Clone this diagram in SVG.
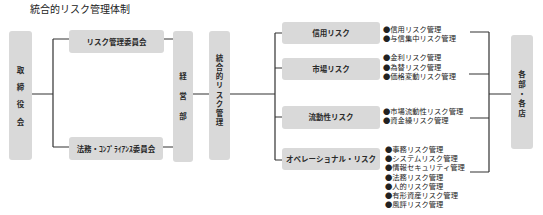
<svg xmlns="http://www.w3.org/2000/svg" width="543" height="215" viewBox="0 0 543 215">
<style>
.bx{fill:#d9d9d9;}
.lb{font-family:"Noto Sans CJK JP","Liberation Sans",sans-serif;font-size:7.5px;font-weight:bold;fill:#2a2a2a;text-anchor:middle;}
.bl{font-family:"Noto Sans CJK JP","Liberation Sans",sans-serif;font-size:7.3px;fill:#222;}
.ti{font-family:"Noto Sans CJK JP","Liberation Sans",sans-serif;font-size:10px;fill:#222;}
.cn{stroke:#333;stroke-width:1.2;fill:none;}
.vt{writing-mode:vertical-rl;letter-spacing:1.6px;}
</style>
<rect width="543" height="215" fill="#fff"/>
<text class="ti" x="30" y="13">統合的リスク管理体制</text>
<g id="connectors">
<path class="cn" d="M32 94H53M53 39V147M53 39H69M53 147H69M164 39H173M163 147H173"/>
<path class="cn" d="M193 94H209M230 94H275M275 33V160M275 33H282M275 68H282M275 117H282M275 160H282"/>
<path class="cn" d="M470 32H489M469 74H489M470 118H489M470 172H489M489 32V172M489 94H511"/>
</g>
<g id="torishimariyakukai">
<rect class="bx" x="9" y="31" width="23" height="129" rx="3"/>
<text class="lb" x="20.5" y="73">取</text>
<text class="lb" x="20.5" y="90">締</text>
<text class="lb" x="20.5" y="107">役</text>
<text class="lb" x="20.5" y="125">会</text>
</g>
<g id="riskkanri-iinkai">
<rect class="bx" x="69" y="30" width="95" height="23" rx="3"/>
<text class="lb" x="116.5" y="44.5">リスク管理委員会</text>
</g>
<g id="compliance-iinkai">
<rect class="bx" x="69" y="137" width="94" height="23" rx="3"/>
<text class="lb" x="116" y="151.5">法務・ｺﾝﾌﾟﾗｲｱﾝｽ委員会</text>
</g>
<g id="keieibu">
<rect class="bx" x="173" y="31" width="20" height="131" rx="3"/>
<text class="lb" x="183" y="79">経</text>
<text class="lb" x="183" y="99">営</text>
<text class="lb" x="183" y="119">部</text>
</g>
<g id="tougouteki">
<rect class="bx" x="209" y="31" width="21" height="129" rx="3"/>
<text class="lb vt" x="219.5" y="91">統合的リスク管理</text>
</g>
<g id="shinyou">
<rect class="bx" x="282" y="22" width="98" height="22" rx="3"/>
<text class="lb" x="331" y="35.5">信用リスク</text>
<text class="bl" x="383" y="32">●信用リスク管理</text>
<text class="bl" x="383" y="41">●与信集中リスク管理</text>
</g>
<g id="shijou">
<rect class="bx" x="282" y="58" width="98" height="22" rx="3"/>
<text class="lb" x="331" y="71.5">市場リスク</text>
<text class="bl" x="383" y="60">●金利リスク管理</text>
<text class="bl" x="383" y="69.5">●為替リスク管理</text>
<text class="bl" x="383" y="79">●価格変動リスク管理</text>
</g>
<g id="ryuudousei">
<rect class="bx" x="282" y="106" width="98" height="23" rx="3"/>
<text class="lb" x="331" y="120">流動性リスク</text>
<text class="bl" x="383" y="114">●市場流動性リスク管理</text>
<text class="bl" x="383" y="123">●資金繰リスク管理</text>
</g>
<g id="operational">
<rect class="bx" x="282" y="148" width="98" height="22" rx="3"/>
<text class="lb" x="331" y="162">オペレーショナル・リスク</text>
<text class="bl" x="385" y="152">●事務リスク管理</text>
<text class="bl" x="385" y="161.2">●システムリスク管理</text>
<text class="bl" x="385" y="170.3">●情報セキュリティ管理</text>
<text class="bl" x="385" y="179.5">●法務リスク管理</text>
<text class="bl" x="385" y="188.7">●人的リスク管理</text>
<text class="bl" x="385" y="197.8">●有形資産リスク管理</text>
<text class="bl" x="385" y="207">●風評リスク管理</text>
</g>
<g id="kakubu-kakuten">
<rect class="bx" x="511" y="35" width="22" height="114" rx="3"/>
<text class="lb" x="522" y="77">各</text>
<text class="lb" x="522" y="87">部</text>
<text class="lb" x="522" y="96.5">・</text>
<text class="lb" x="522" y="106">各</text>
<text class="lb" x="522" y="116">店</text>
</g>
</svg>
